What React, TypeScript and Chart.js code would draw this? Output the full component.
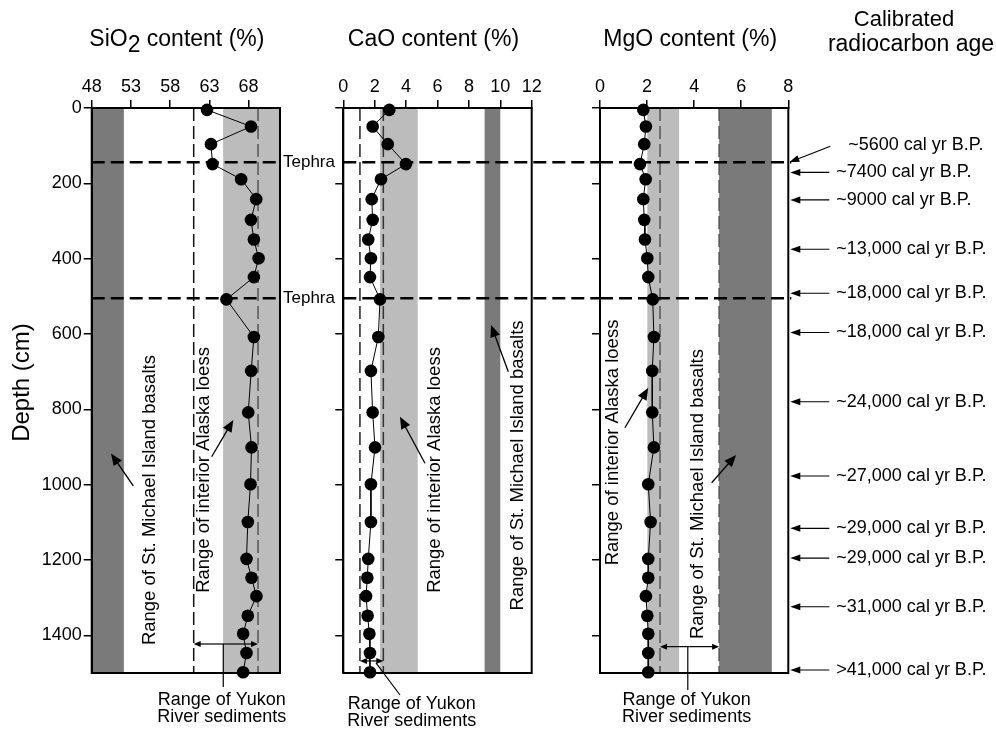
import React, { useEffect, useRef } from 'react';
import { Chart, registerables } from 'chart.js';

Chart.register(...registerables);

// ---------------- DATA ----------------
const DEPTH_CM = [5, 49, 96, 149, 189, 242, 297, 349, 399, 449, 508, 608, 698, 808, 901, 999, 1099, 1197, 1247, 1296, 1348, 1396, 1447, 1498];
const SIO2 = [62.7, 68.3, 63.2, 63.4, 67.05, 68.97, 68.3, 68.67, 69.27, 68.67, 65.17, 68.67, 68.33, 67.95, 68.37, 68.24, 67.9, 67.73, 68.37, 69.0, 67.9, 67.3, 67.73, 67.3];
const CAO = [2.93, 1.87, 2.83, 3.99, 2.4, 1.81, 1.87, 1.59, 1.76, 1.7, 2.34, 2.23, 1.76, 1.87, 2.02, 1.76, 1.76, 1.59, 1.53, 1.45, 1.55, 1.66, 1.7, 1.7];
const MGO = [1.84, 1.95, 1.88, 1.7, 1.94, 1.84, 1.88, 1.91, 2.01, 2.05, 2.24, 2.29, 2.22, 2.22, 2.29, 2.05, 2.15, 2.05, 2.05, 1.95, 2.01, 2.05, 2.05, 2.05];

const DEPTH_TICKS = [0, 200, 400, 600, 800, 1000, 1200, 1400];
const SIO2_TICKS = [48, 53, 58, 63, 68];
const CAO_TICKS = [0, 2, 4, 6, 8, 10, 12];
const MGO_TICKS = [0, 2, 4, 6, 8];

const SIO2_BASALT = [48, 52.1];
const SIO2_LOESS = [64.75, 72];
const SIO2_YUKON = [61.0, 69.2];
const CAO_BASALT = [9, 10];
const CAO_LOESS = [2.34, 4.74];
const CAO_YUKON = [1.06, 2.55];
const MGO_BASALT = [5.06, 7.3];
const MGO_LOESS = [2.01, 3.36];
const MGO_YUKON = [2.55, 5.06];

const TEPHRA_DEPTHS = [144, 505];

const AGE_LABELS = [
  '~5600 cal yr B.P.', '~7400 cal yr B.P.', '~9000 cal yr B.P.', '~13,000 cal yr B.P.',
  '~18,000 cal yr B.P.', '~18,000 cal yr B.P.', '~24,000 cal yr B.P.', '~27,000 cal yr B.P.',
  '~29,000 cal yr B.P.', '~29,000 cal yr B.P.', '~31,000 cal yr B.P.', '>41,000 cal yr B.P.',
];
const AGE_DEPTHS = [144, 171, 244, 375, 492, 596, 780, 977, 1116, 1195, 1324, 1492];

// ---------------- LAYOUT / STYLE ----------------
const W = 996;
const H = 729;
const TOP = 108;
const BOTTOM = 673;
const BOXES = [
  { left: 91.7, right: 280 },
  { left: 343.3, right: 531.7 },
  { left: 600, right: 788.3 },
];
const FONT = '"Liberation Sans", Arial, Helvetica, sans-serif';
const DARK = '#7a7a7a';
const LIGHT = '#bcbcbc';
const ANN_FONT = `18.5px ${FONT}`;

type Ann = {
  loessText: [number, number];
  loessArrow: [number, number, number, number];
  basaltText: [number, number];
  basaltArrow: [number, number, number, number];
  yukonDepth: number;
};

type PanelCfg = {
  key: string;
  values: number[];
  min: number;
  max: number;
  ticks: number[];
  basalt: number[];
  loess: number[];
  yukon: number[];
  yukonColors: string[];
  box: { left: number; right: number };
  yWidth: number;
  showYLabels: boolean;
  tephraEnd: (a: any) => number;
  ann: Ann;
  extra: (chart: any) => void;
};

function arrow(ctx: CanvasRenderingContext2D, x1: number, y1: number, x2: number, y2: number, L = 11, Wd = 4.5, lw = 1.3) {
  const ang = Math.atan2(y2 - y1, x2 - x1);
  const c = Math.cos(ang), s = Math.sin(ang);
  ctx.lineWidth = lw;
  ctx.beginPath();
  ctx.moveTo(x1, y1);
  ctx.lineTo(x2 - c * L * 0.7, y2 - s * L * 0.7);
  ctx.stroke();
  const bx = x2 - c * L, by = y2 - s * L;
  ctx.beginPath();
  ctx.moveTo(x2, y2);
  ctx.lineTo(bx - s * Wd, by + c * Wd);
  ctx.lineTo(bx + s * Wd, by - c * Wd);
  ctx.closePath();
  ctx.fill();
}

function vtext(ctx: CanvasRenderingContext2D, t: string, x: number, y: number) {
  ctx.save();
  ctx.translate(x, y);
  ctx.rotate(-Math.PI / 2);
  ctx.textAlign = 'center';
  ctx.textBaseline = 'middle';
  ctx.fillText(t, 0, 0);
  ctx.restore();
}

function drawYukonLabel(ctx: CanvasRenderingContext2D, x: number, bottom: number, dy: number) {
  ctx.font = `18px ${FONT}`;
  ctx.textAlign = 'center';
  ctx.textBaseline = 'middle';
  ctx.fillText('Range of Yukon', x, bottom + dy);
  ctx.fillText('River sediments', x, bottom + dy + 17);
}

function makePlugin(cfg: PanelCfg) {
  return {
    id: 'panel_' + cfg.key,
    beforeDraw(chart: any) {
      const { ctx, chartArea: a, scales } = chart;
      const x = scales.x, y = scales.y;
      ctx.save();
      const band = (r: number[], color: string) => {
        const x1 = x.getPixelForValue(r[0]);
        const x2 = x.getPixelForValue(r[1]);
        ctx.fillStyle = color;
        ctx.fillRect(Math.min(x1, x2), a.top, Math.abs(x2 - x1), a.bottom - a.top);
      };
      band(cfg.loess, LIGHT);
      band(cfg.basalt, DARK);
      ctx.lineWidth = 1.5;
      ctx.setLineDash([13, 5]);
      cfg.yukon.forEach((v, i) => {
        const xx = x.getPixelForValue(v);
        ctx.strokeStyle = cfg.yukonColors[i];
        ctx.beginPath();
        ctx.moveTo(xx, a.top);
        ctx.lineTo(xx, a.bottom);
        ctx.stroke();
      });
      ctx.lineWidth = 2.6;
      ctx.strokeStyle = '#000';
      ctx.setLineDash([13, 6]);
      TEPHRA_DEPTHS.forEach((d) => {
        const yy = y.getPixelForValue(d);
        ctx.beginPath();
        ctx.moveTo(a.left, yy);
        ctx.lineTo(cfg.tephraEnd(a), yy);
        ctx.stroke();
      });
      ctx.restore();
    },
    beforeDatasetsDraw(chart: any) {
      const { ctx, chartArea: a } = chart;
      ctx.save();
      ctx.lineWidth = 2;
      ctx.strokeStyle = '#000';
      ctx.strokeRect(a.left, a.top, a.right - a.left, a.bottom - a.top);
      ctx.restore();
    },
    afterDraw(chart: any) {
      const { ctx, scales } = chart;
      const x = scales.x, y = scales.y;
      const P = (v: number) => x.getPixelForValue(v);
      const Q = (d: number) => y.getPixelForValue(d);
      ctx.save();
      ctx.fillStyle = '#000';
      ctx.strokeStyle = '#000';
      ctx.font = ANN_FONT;
      const an = cfg.ann;
      vtext(ctx, 'Range of interior Alaska loess', P(an.loessText[0]), Q(an.loessText[1]));
      vtext(ctx, 'Range of St. Michael Island basalts', P(an.basaltText[0]), Q(an.basaltText[1]));
      arrow(ctx, P(an.loessArrow[0]), Q(an.loessArrow[1]), P(an.loessArrow[2]), Q(an.loessArrow[3]), 12, 5, 1.3);
      arrow(ctx, P(an.basaltArrow[0]), Q(an.basaltArrow[1]), P(an.basaltArrow[2]), Q(an.basaltArrow[3]), 12, 5, 1.3);
      // Yukon double arrow
      const yy = Q(an.yukonDepth);
      const xa = P(cfg.yukon[0]), xb = P(cfg.yukon[1]);
      const mid = (xa + xb) / 2;
      arrow(ctx, mid, yy, xa, yy, 7, 3, 1.2);
      arrow(ctx, mid, yy, xb, yy, 7, 3, 1.2);
      cfg.extra(chart);
      ctx.restore();
    },
  };
}

function makeChart(canvas: HTMLCanvasElement, cfg: PanelCfg) {
  const data = DEPTH_CM.map((d, i) => ({ x: cfg.values[i], y: d }));
  return new Chart(canvas, {
    type: 'scatter',
    data: {
      datasets: [
        {
          data,
          showLine: true,
          borderColor: '#000',
          borderWidth: 1,
          pointRadius: 6.3,
          pointBackgroundColor: '#000',
          pointBorderColor: '#000',
          pointBorderWidth: 0,
          clip: false as any,
        } as any,
      ],
    },
    options: {
      responsive: false,
      animation: false,
      devicePixelRatio: 1,
      events: [],
      layout: {
        padding: {
          left: cfg.box.left - cfg.yWidth,
          right: W - cfg.box.right,
          top: 0,
          bottom: H - BOTTOM,
        },
      },
      plugins: { legend: { display: false }, tooltip: { enabled: false }, title: { display: false } },
      scales: {
        x: {
          type: 'linear',
          position: 'top',
          min: cfg.min,
          max: cfg.max,
          afterBuildTicks: (s: any) => {
            s.ticks = cfg.ticks.map((v) => ({ value: v }));
          },
          afterFit: (s: any) => {
            s.height = TOP;
          },
          grid: { drawOnChartArea: false, drawTicks: true, tickLength: 8, color: '#000', lineWidth: 1.5 },
          border: { display: true, color: '#000', width: 2 },
          ticks: {
            color: '#000',
            font: { family: FONT, size: 18 },
            padding: 2,
            maxRotation: 0,
            autoSkip: false,
            callback: (v: any) => String(v),
          },
        },
        y: {
          type: 'linear',
          reverse: true,
          min: 0,
          max: 1500,
          afterBuildTicks: (s: any) => {
            s.ticks = DEPTH_TICKS.map((v) => ({ value: v }));
          },
          afterFit: (s: any) => {
            s.width = cfg.yWidth;
          },
          grid: { drawOnChartArea: false, drawTicks: true, tickLength: 8, color: '#000', lineWidth: 1.5 },
          border: { display: true, color: '#000', width: 2 },
          ticks: {
            display: cfg.showYLabels,
            color: '#000',
            font: { family: FONT, size: 18 },
            padding: 2,
            autoSkip: false,
            callback: (v: any) => String(v),
          },
        },
      },
    } as any,
    plugins: [makePlugin(cfg)],
  });
}

function titleText(ctx: CanvasRenderingContext2D, t: string, cx: number, y: number) {
  ctx.font = `23px ${FONT}`;
  ctx.textAlign = 'center';
  ctx.textBaseline = 'alphabetic';
  ctx.fillText(t, cx, y);
}

const panels: PanelCfg[] = [
  {
    key: 'sio2',
    values: SIO2,
    min: 48,
    max: 72,
    ticks: SIO2_TICKS,
    basalt: SIO2_BASALT,
    loess: SIO2_LOESS,
    yukon: SIO2_YUKON,
    yukonColors: ['#111', '#555'],
    box: BOXES[0],
    yWidth: BOXES[0].left,
    showYLabels: true,
    tephraEnd: (a) => a.right,
    ann: {
      loessText: [62.25, 961],
      loessArrow: [63.29, 926, 66.05, 828],
      basaltText: [55.43, 1041],
      basaltArrow: [53.3, 1003, 50.46, 917],
      yukonDepth: 1423,
    },
    extra: (chart) => {
      const { ctx, chartArea: a, scales } = chart;
      const x = scales.x, y = scales.y;
      // Tephra labels
      ctx.font = `17px ${FONT}`;
      ctx.textAlign = 'left';
      ctx.textBaseline = 'middle';
      TEPHRA_DEPTHS.forEach((d) => ctx.fillText('Tephra', a.right + 3, y.getPixelForValue(d)));
      // Yukon connector + label
      const yy = y.getPixelForValue(1423);
      const lx = x.getPixelForValue(64.77);
      ctx.lineWidth = 1.2;
      ctx.beginPath();
      ctx.moveTo(lx, yy);
      ctx.lineTo(lx, a.bottom + 14);
      ctx.stroke();
      drawYukonLabel(ctx, x.getPixelForValue(64.57), a.bottom, 27);
      // Title with subscript
      ctx.font = `23px ${FONT}`;
      ctx.textBaseline = 'alphabetic';
      ctx.textAlign = 'left';
      const t1 = 'SiO', t2 = '2', t3 = ' content (%)';
      const w1 = ctx.measureText(t1).width;
      const w2 = ctx.measureText(t2).width;
      const w3 = ctx.measureText(t3).width;
      const cx = (a.left + a.right) / 2 - 9;
      let sx = cx - (w1 + w2 + w3) / 2;
      ctx.fillText(t1, sx, 46);
      sx += w1;
      ctx.fillText(t2, sx, 52);
      sx += w2;
      ctx.fillText(t3, sx, 46);
      // Depth axis title
      ctx.save();
      ctx.font = `24px ${FONT}`;
      ctx.translate(22, (a.top + a.bottom) / 2 - 8);
      ctx.rotate(-Math.PI / 2);
      ctx.textAlign = 'center';
      ctx.textBaseline = 'middle';
      ctx.fillText('Depth (cm)', 0, 0);
      ctx.restore();
    },
  },
  {
    key: 'cao',
    values: CAO,
    min: 0,
    max: 12,
    ticks: CAO_TICKS,
    basalt: CAO_BASALT,
    loess: CAO_LOESS,
    yukon: CAO_YUKON,
    yukonColors: ['#222', '#333'],
    box: BOXES[1],
    yWidth: 20,
    showYLabels: false,
    tephraEnd: () => BOXES[2].left,
    ann: {
      loessText: [5.84, 961],
      loessArrow: [5.2, 943, 3.61, 820],
      basaltText: [11.15, 949],
      basaltArrow: [10.51, 700, 9.41, 576],
      yukonDepth: 1468,
    },
    extra: (chart) => {
      const { ctx, chartArea: a, scales } = chart;
      const x = scales.x, y = scales.y;
      ctx.lineWidth = 1.2;
      ctx.beginPath();
      ctx.moveTo(x.getPixelForValue(2.08), y.getPixelForValue(1473));
      ctx.lineTo(x.getPixelForValue(3.61), a.bottom + 22);
      ctx.stroke();
      drawYukonLabel(ctx, x.getPixelForValue(4.36), a.bottom, 31);
      titleText(ctx, 'CaO content (%)', (a.left + a.right) / 2 - 4, 46);
    },
  },
  {
    key: 'mgo',
    values: MGO,
    min: 0,
    max: 8,
    ticks: MGO_TICKS,
    basalt: MGO_BASALT,
    loess: MGO_LOESS,
    yukon: MGO_YUKON,
    yukonColors: ['#555', '#555'],
    box: BOXES[2],
    yWidth: 20,
    showYLabels: false,
    tephraEnd: (a) => a.right + 3,
    ann: {
      loessText: [0.565, 888],
      loessArrow: [1.06, 849, 2.05, 743],
      basaltText: [4.18, 1025],
      basaltArrow: [4.745, 995, 5.78, 921],
      yukonDepth: 1430,
    },
    extra: (chart) => {
      const { ctx, chartArea: a, scales } = chart;
      const x = scales.x, y = scales.y;
      ctx.lineWidth = 1.2;
      const lx = x.getPixelForValue(3.73);
      ctx.beginPath();
      ctx.moveTo(lx, y.getPixelForValue(1430));
      ctx.lineTo(lx, a.bottom + 17);
      ctx.stroke();
      drawYukonLabel(ctx, x.getPixelForValue(3.68), a.bottom, 27);
      titleText(ctx, 'MgO content (%)', (a.left + a.right) / 2 - 4, 46);
      // Right-hand title
      ctx.font = `22px ${FONT}`;
      ctx.textAlign = 'center';
      ctx.textBaseline = 'alphabetic';
      ctx.fillText('Calibrated', 904, 26);
      ctx.font = `23px ${FONT}`;
      ctx.fillText('radiocarbon age', 911, 51);
      // Age labels with arrows
      ctx.font = `18px ${FONT}`;
      ctx.textAlign = 'left';
      ctx.textBaseline = 'middle';
      AGE_DEPTHS.forEach((d, i) => {
        const yy = y.getPixelForValue(d);
        if (i === 0) {
          arrow(ctx, a.right + 42, yy - 16, a.right + 1, yy, 10, 3.5, 1.1);
          ctx.fillText(AGE_LABELS[i], a.right + 60, yy - 17);
        } else {
          arrow(ctx, a.right + 41, yy, a.right + 2, yy, 10, 3.5, 1.1);
          ctx.fillText(AGE_LABELS[i], a.right + 48, yy);
        }
      });
    },
  },
];

export default function App() {
  const refs = [useRef<HTMLCanvasElement>(null), useRef<HTMLCanvasElement>(null), useRef<HTMLCanvasElement>(null)];
  useEffect(() => {
    const charts = panels.map((p, i) => makeChart(refs[i].current as HTMLCanvasElement, p));
    return () => charts.forEach((c) => c.destroy());
  }, []);
  return (
    <div style={{ position: 'fixed', left: 0, top: 0, width: W, height: H, background: '#fff' }}>
      {refs.map((r, i) => (
        <canvas key={i} ref={r} width={W} height={H} style={{ position: 'absolute', left: 0, top: 0, width: W, height: H }} />
      ))}
    </div>
  );
}
